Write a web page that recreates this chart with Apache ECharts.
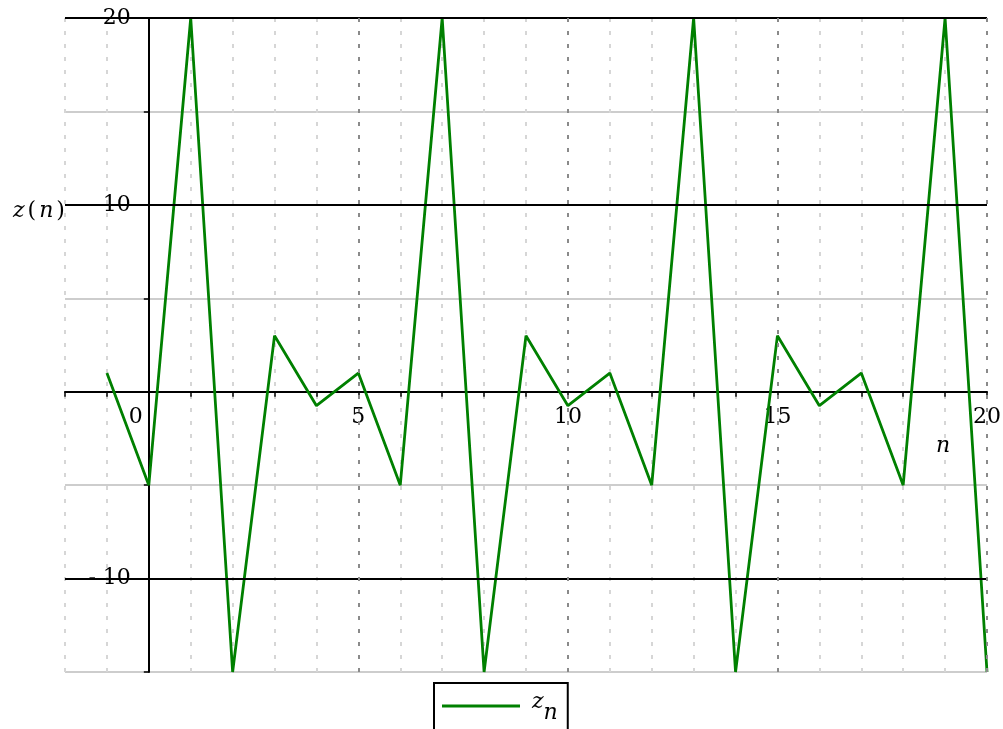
<!DOCTYPE html>
<html>
<head>
<meta charset="utf-8">
<title>z(n)</title>
<script src="https://cdn.jsdelivr.net/npm/echarts@6/dist/echarts.min.js"></script>
<style>
  html, body { margin: 0; padding: 0; background: #ffffff; }
  #chart { width: 1003px; height: 729px; }
</style>
</head>
<body>
<div id="chart"></div>
<script>
// sequence index n and value z(n)
const nValues = [-1, 0, 1, 2, 3, 4, 5, 6, 7, 8, 9, 10, 11, 12, 13, 14, 15, 16, 17, 18, 19, 20];
const zValues = [1, -5, 20, -15, 3, -0.75, 1, -5, 20, -15, 3, -0.75, 1, -5, 20, -15, 3, -0.75, 1, -5, 20, -15];

// axis ranges and labelled ticks
const xRange = [-2, 20];
const yRange = [-15, 20];
const xTickLabels = [0, 5, 10, 15, 20];
const yTickLabels = [20, 10, -10];

// heavier reference lines
const majorXLines = [5, 10, 15, 20];
const majorYLines = [20, 10, -10];

const FONT = 'DejaVu Serif';
const points = nValues.map((n, i) => [n, zValues[i]]);

// plot box (pixels)
const GRID = { left: 65, right: 16, top: 18, bottom: 57 };
const W = 1003, H = 729;

const gridMarks = []
  .concat(majorYLines.map(v => ({ yAxis: v, lineStyle: { color: '#000000', width: 2, type: 'solid' } })))
  .concat(majorXLines.map(v => ({ xAxis: v, lineStyle: { color: '#8a8a8a', width: 2, type: [4, 9] } })));

// the axes cross at the origin: shift each axis from the plot edge to the zero of the other
const plotW = W - GRID.left - GRID.right;
const plotH = H - GRID.top - GRID.bottom;
const xAxisOffset = -plotH * (0 - yRange[0]) / (yRange[1] - yRange[0]);
const yAxisOffset = -plotW * (0 - xRange[0]) / (xRange[1] - xRange[0]);

const chart = echarts.init(document.getElementById('chart'), null, { renderer: 'canvas' });

chart.setOption({
  animation: false,
  backgroundColor: '#ffffff',
  title: [
    {
      text: '{i|z}{r|(}{i|n}{r|)}',
      left: 5,
      top: 195,
      textStyle: {
        fontWeight: 'normal',
        rich: {
          i: { fontFamily: FONT, fontStyle: 'italic', fontWeight: 'normal', fontSize: 22, color: '#000', padding: [0, 3, 0, 3] },
          r: { fontFamily: FONT, fontWeight: 'normal', fontSize: 22, color: '#000' }
        }
      }
    },
    {
      text: 'n',
      left: 931,
      top: 430,
      textStyle: { fontFamily: FONT, fontStyle: 'italic', fontWeight: 'normal', fontSize: 22, color: '#000' }
    }
  ],
  legend: {
    data: ['zn'],
    left: 434,
    top: 683,
    orient: 'horizontal',
    padding: [8, 10, 24, 8],
    borderColor: '#000000',
    borderWidth: 2,
    icon: 'rect',
    itemWidth: 78,
    itemHeight: 3,
    formatter: () => '{z|z}{s|n}',
    textStyle: {
      padding: [0, 0, 0, 7],
      rich: {
        z: { fontFamily: FONT, fontStyle: 'italic', fontSize: 22, color: '#000', padding: [0, 0, 8, 0] },
        s: { fontFamily: FONT, fontStyle: 'italic', fontSize: 22, color: '#000', padding: [14, 0, 0, 0] }
      }
    }
  },
  grid: {
    left: GRID.left,
    right: GRID.right,
    top: GRID.top,
    bottom: GRID.bottom,
    containLabel: false,
    outerBoundsMode: 'none'
  },
  xAxis: {
    type: 'value',
    position: 'bottom',
    offset: xAxisOffset,
    min: xRange[0],
    max: xRange[1],
    interval: 1,
    axisLine: { onZero: false, lineStyle: { color: '#000', width: 2 } },
    axisTick: { show: true, length: 5, lineStyle: { color: '#000', width: 1.5 } },
    axisLabel: {
      margin: 15,
      color: '#000',
      fontFamily: FONT,
      fontSize: 22,
      showMinLabel: true,
      showMaxLabel: true,
      hideOverlap: false,
      formatter: v => {
        if (!xTickLabels.includes(v)) return '';
        return v === 0 ? '{o|0}' : String(v);
      },
      rich: {
        o: { fontFamily: FONT, fontSize: 22, color: '#000', padding: [0, 26, 0, 0] }
      }
    },
    splitLine: { show: true, lineStyle: { color: '#d6d6d6', width: 2, type: [4, 9] } }
  },
  yAxis: {
    type: 'value',
    position: 'left',
    offset: yAxisOffset,
    min: yRange[0],
    max: yRange[1],
    interval: 5,
    axisLine: { onZero: false, lineStyle: { color: '#000', width: 2 } },
    axisTick: { show: true, length: 5, lineStyle: { color: '#000', width: 1.5 } },
    axisLabel: {
      margin: 18,
      color: '#000',
      fontFamily: FONT,
      fontSize: 22,
      showMinLabel: true,
      showMaxLabel: true,
      formatter: v => {
        if (!yTickLabels.includes(v)) return '';
        return v < 0 ? '- ' + Math.abs(v) : String(v);
      }
    },
    splitLine: { show: true, lineStyle: { color: '#bdbdbd', width: 1.5 } }
  },
  series: [
    {
      name: 'grid',
      type: 'line',
      data: [],
      z: 1,
      silent: true,
      markLine: {
        silent: true,
        symbol: ['none', 'none'],
        label: { show: false },
        animation: false,
        data: gridMarks
      }
    },
    {
      name: 'zn',
      type: 'line',
      data: points,
      z: 3,
      showSymbol: false,
      symbol: 'none',
      lineStyle: { color: '#008000', width: 2.8 },
      itemStyle: { color: '#008000' }
    }
  ]
});
</script>
</body>
</html>
